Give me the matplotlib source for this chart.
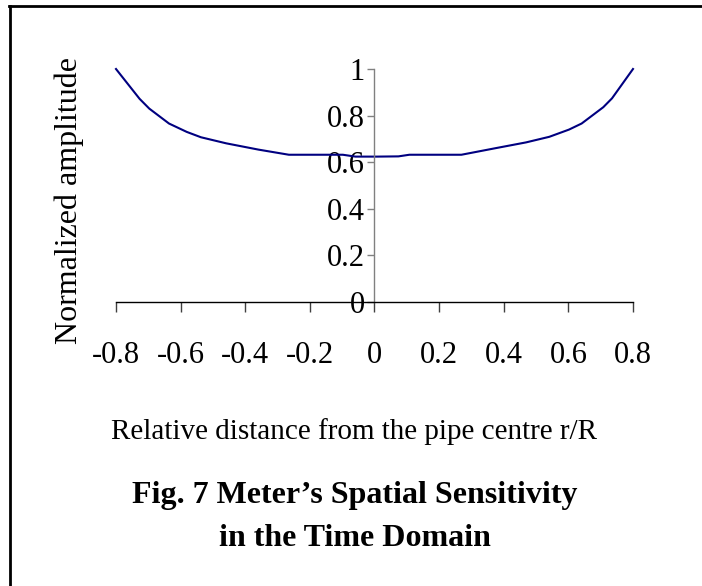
import matplotlib
matplotlib.use("Agg")
import matplotlib.pyplot as plt
from matplotlib.lines import Line2D

# Data
r_over_R = [-0.8, -0.727, -0.697, -0.636, -0.581, -0.537, -0.459, -0.359, -0.265,
            -0.182, -0.098, -0.059, 0.008, 0.074, 0.108, 0.269, 0.374, 0.469,
            0.541, 0.602, 0.641, 0.708, 0.735, 0.8]
amplitude = [1.0, 0.872, 0.830, 0.766, 0.730, 0.707, 0.681, 0.654, 0.632,
             0.632, 0.632, 0.624, 0.624, 0.625, 0.632, 0.632, 0.660, 0.685,
             0.709, 0.740, 0.766, 0.836, 0.874, 1.0]
x_ticks = [-0.8, -0.6, -0.4, -0.2, 0, 0.2, 0.4, 0.6, 0.8]
x_tick_labels = ["-0.8", "-0.6", "-0.4", "-0.2", "0", "0.2", "0.4", "0.6", "0.8"]
y_ticks = [0, 0.2, 0.4, 0.6, 0.8, 1]
y_tick_labels = ["0", "0.2", "0.4", "0.6", "0.8", "1"]

plt.rcParams['font.family'] = ['Liberation Serif', 'DejaVu Serif']

W, H = 702, 586
fig = plt.figure(figsize=(W / 100, H / 100), dpi=100)
ax = fig.add_axes([116 / W, 1 - 302 / H, (633 - 116) / W, (302 - 69) / H])

ax.plot(r_over_R, amplitude, color='#000080', linewidth=1.5, clip_on=False)

ax.set_xlim(-0.8, 0.8)
ax.set_ylim(0, 1)

ax.spines['top'].set_visible(False)
ax.spines['right'].set_visible(False)
ax.spines['left'].set_position(('data', 0))
ax.spines['left'].set_color('#808080')
ax.spines['left'].set_linewidth(1.0)
ax.spines['bottom'].set_position(('data', 0))
ax.spines['bottom'].set_color('black')
ax.spines['bottom'].set_linewidth(1.0)

ax.set_xticks(x_ticks)
ax.set_xticklabels(x_tick_labels, fontsize=22)
ax.set_yticks(y_ticks)
ax.set_yticklabels(y_tick_labels, fontsize=22)
ax.tick_params(axis='x', direction='out', length=7, width=1, color='#404040', pad=21)
ax.tick_params(axis='y', direction='out', length=5, width=1, color='#808080', pad=2)

fig.text(69 / W, 1 - 200 / H, "Normalized amplitude", rotation=90,
         ha='center', va='center', fontsize=23)
fig.text(354 / W, 1 - 432 / H, "Relative distance from the pipe centre r/R",
         ha='center', va='center', fontsize=21)
fig.text(355 / W, 1 - 495 / H, "Fig. 7 Meter\u2019s Spatial Sensitivity",
         ha='center', va='center', fontsize=23, fontweight='bold')
fig.text(355 / W, 1 - 538 / H, "in the Time Domain",
         ha='center', va='center', fontsize=23, fontweight='bold')

# Frame lines (top and left) around the figure
fig.add_artist(Line2D([10 / W, 10 / W], [0, 1 - 6 / H], color='black',
                      linewidth=2, transform=fig.transFigure))
fig.add_artist(Line2D([9 / W, 1], [1 - 6 / H, 1 - 6 / H], color='black',
                      linewidth=2, transform=fig.transFigure))

fig.savefig("out.png", dpi=100)
